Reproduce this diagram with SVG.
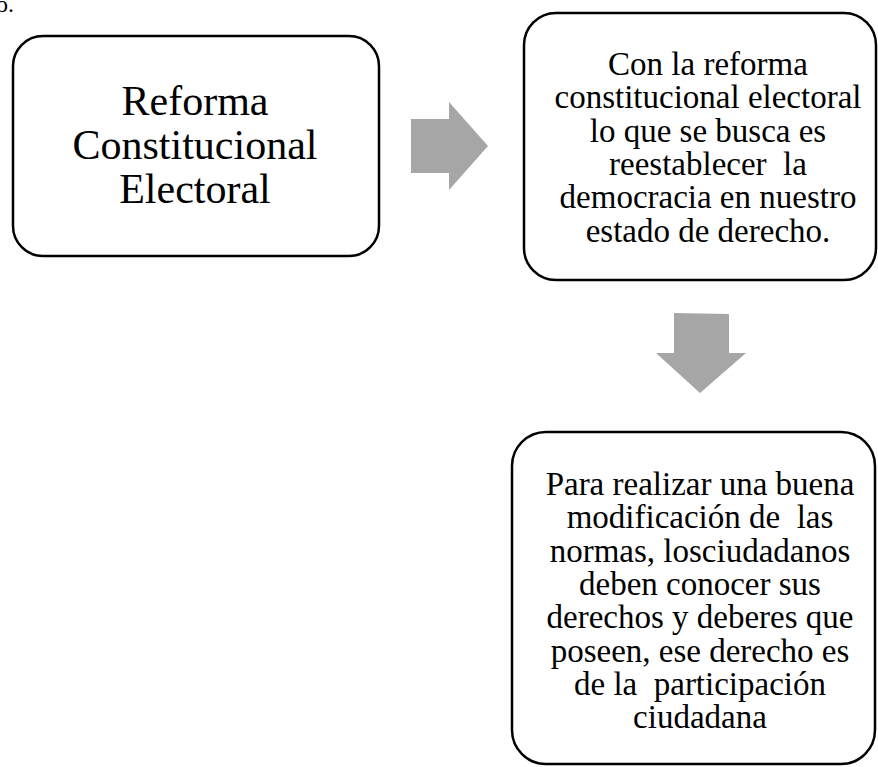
<svg xmlns="http://www.w3.org/2000/svg" width="878" height="767" viewBox="0 0 878 767">
  <style>
    .box { fill: #ffffff; stroke: #000000; stroke-width: 2.5; }
    .t { font-family: "Liberation Serif", "Times New Roman", serif; fill: #000000; text-anchor: middle; }
    .big { font-size: 42px; }
    .mid { font-size: 33px; }
    .arrow { fill: #a6a6a6; stroke: none; }
  </style>
  <rect width="878" height="767" fill="#ffffff"/>
  <text x="-4" y="12" font-family="Liberation Serif, serif" font-size="24" fill="#000">o.</text>
  <g id="node1">
    <rect class="box" x="13" y="36" width="366" height="220" rx="30" ry="30"/>
    <text class="t big" x="195" y="115">Reforma</text>
    <text class="t big" x="195" y="159">Constitucional</text>
    <text class="t big" x="195" y="203">Electoral</text>
  </g>
  <g id="node2">
    <rect class="box" x="524" y="13" width="352" height="267" rx="32" ry="32"/>
    <text class="t mid" x="708" y="75">Con la reforma</text>
    <text class="t mid" x="708" y="108">constitucional electoral</text>
    <text class="t mid" x="708" y="142">lo que se busca es</text>
    <text class="t mid" x="708" y="175" xml:space="preserve">reestablecer  la</text>
    <text class="t mid" x="708" y="208">democracia en nuestro</text>
    <text class="t mid" x="708" y="242">estado de derecho.</text>
  </g>
  <g id="node3">
    <rect class="box" x="512" y="432" width="363" height="332" rx="34" ry="34"/>
    <text class="t mid" x="700" y="495">Para realizar una buena</text>
    <text class="t mid" x="700" y="528" xml:space="preserve">modificación de  las</text>
    <text class="t mid" x="700" y="562">normas, losciudadanos</text>
    <text class="t mid" x="700" y="595">deben conocer sus</text>
    <text class="t mid" x="700" y="628">derechos y deberes que</text>
    <text class="t mid" x="700" y="662">poseen, ese derecho es</text>
    <text class="t mid" x="700" y="695" xml:space="preserve">de la  participación</text>
    <text class="t mid" x="700" y="728">ciudadana</text>
  </g>
  <g id="connectors">
    <polygon class="arrow" points="411,119 449,119 449,102 488,146 449,190 449,173 411,173"/>
    <polygon class="arrow" points="674,313 729,314 729,353 746,353 700,393 656,353 674,353"/>
  </g>
</svg>
